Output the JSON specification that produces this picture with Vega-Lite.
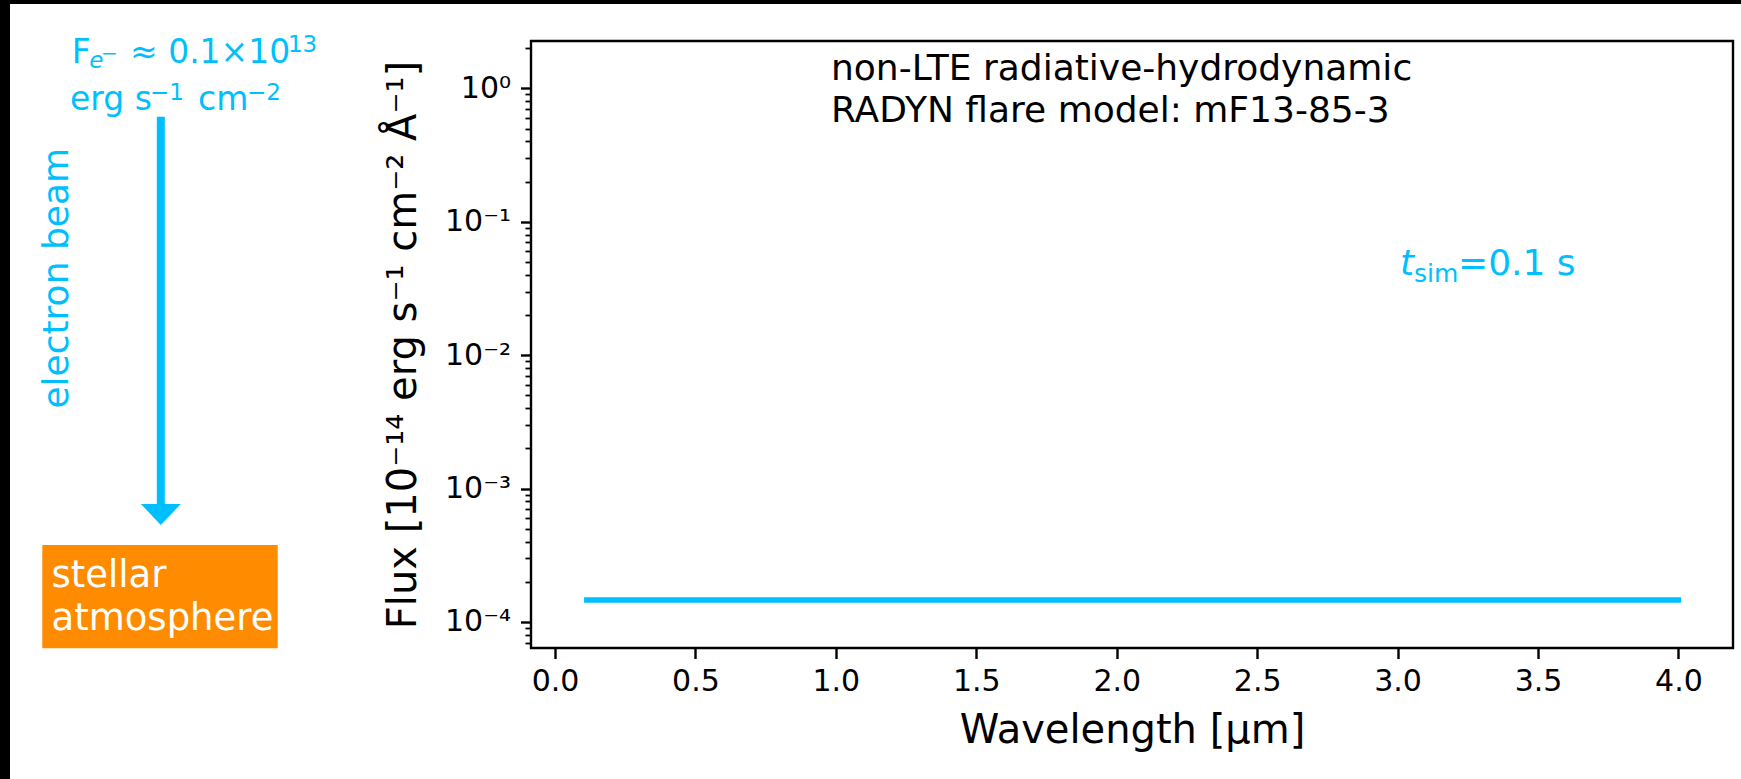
{
  "$schema": "https://vega.github.io/schema/vega-lite/v6.json",
  "width": 1202,
  "height": 607,
  "autosize": {"type": "none"},
  "padding": {"left": 531, "top": 41, "right": 8, "bottom": 131},
  "background": "white",
  "config": {
    "font": "DejaVu Sans",
    "view": {"stroke": "black", "strokeWidth": 2.4},
    "axis": {"domain": false, "grid": false, "labelColor": "black", "tickColor": "black", "titleColor": "black", "titleFontWeight": "normal", "labelFont": "DejaVu Sans", "titleFont": "DejaVu Sans"}
  },
  "datasets": {
    "spectrum": [{"wl": 0.113, "flux": 1.46e-4}, {"wl": 4.0, "flux": 1.46e-4}],
    "frame": [{"wl": -2.2, "wl2": -1.9403, "flux": 20, "flux2": 1e-6}, {"wl": -2.2, "wl2": 4.5, "flux": 20, "flux2": 4.29}],
    "box": [{"wl": -1.8253, "wl2": -0.9872, "flux": 3.776e-4, "flux2": 6.348e-5}],
    "box_text": [{"label": "stellar", "wl": -1.7926, "flux": 1.838e-4}, {"label": "atmosphere", "wl": -1.7926, "flux": 8.705e-5}],
    "beam_label": [{"label": "electron beam", "wl": -1.7328, "flux": 0.03769}],
    "arrow": [{"wl": -1.4034, "flux": 0.6131, "flux2": 7.6e-4}],
    "arrow_head": [{"wl": -1.4034, "flux": 6.449e-4}],
    "flux_big": [{"label": "F", "wl": -1.7207, "flux": 1.557}, {"label": "≈ 0.1×10", "wl": -1.5131, "flux": 1.557}, {"label": "erg s", "wl": -1.7267, "flux": 0.6885}, {"label": "cm", "wl": -1.271, "flux": 0.6885}],
    "flux_sup": [{"label": "13", "wl": -0.951, "flux": 1.883}, {"label": "−1", "wl": -1.4419, "flux": 0.818}, {"label": "−2", "wl": -1.0965, "flux": 0.818}],
    "flux_e": [{"label": "e", "wl": -1.658, "flux": 1.414}],
    "flux_minus": [{"label": "−", "wl": -1.6163, "flux": 1.632}],
    "model": [{"label": "non-LTE radiative-hydrodynamic", "wl": 0.9827, "flux": 1.155}, {"label": "RADYN flare model: mF13-85-3", "wl": 0.9827, "flux": 0.5624}],
    "t_t": [{"label": "t", "wl": 3.0085, "flux": 0.0399}],
    "t_sim": [{"label": "sim", "wl": 3.0584, "flux": 0.03535}],
    "t_val": [{"label": "=0.1 s", "wl": 3.215, "flux": 0.0399}]
  },
  "resolve": {"axis": {"y": "independent"}},
  "encoding": {
    "x": {
      "field": "wl", "type": "quantitative",
      "scale": {"domain": [-0.0854, 4.1941], "nice": false, "zero": false},
      "axis": {
        "values": [0, 0.5, 1, 1.5, 2, 2.5, 3, 3.5, 4],
        "format": ".1f",
        "labelFontSize": 30,
        "labelPadding": 8,
        "labelFlush": false,
        "labelOverlap": false,
        "tickSize": 10.5,
        "tickWidth": 2.4,
        "title": "Wavelength [μm]",
        "titleFontSize": 40,
        "titleBaseline": "alphabetic",
        "titleX": 601,
        "titleY": 94
      }
    },
    "y": {
      "field": "flux", "type": "quantitative",
      "scale": {"type": "log", "domain": [6.378e-5, 2.265], "nice": false},
      "axis": null
    }
  },
  "layer": [
    {
      "data": {"name": "frame"},
      "mark": {"type": "rect", "color": "black"},
      "encoding": {
        "x2": {"field": "wl2"},
        "y": {
          "field": "flux", "type": "quantitative",
          "scale": {"type": "log", "domain": [6.378e-5, 2.265], "nice": false},
          "axis": {
            "orient": "left",
            "values": [7e-5, 8e-5, 9e-5, 2e-4, 3e-4, 4e-4, 5e-4, 6e-4, 7e-4, 8e-4, 9e-4, 2e-3, 3e-3, 4e-3, 5e-3, 6e-3, 7e-3, 8e-3, 9e-3, 2e-2, 3e-2, 4e-2, 5e-2, 6e-2, 7e-2, 8e-2, 9e-2, 0.2, 0.3, 0.4, 0.5, 0.6, 0.7, 0.8, 0.9, 2],
            "labels": false,
            "title": null,
            "tickSize": 6,
            "tickWidth": 1.8
          }
        },
        "y2": {"field": "flux2"}
      }
    },
    {
      "data": {"name": "box"},
      "mark": {"type": "rect", "color": "#FF8C00"},
      "encoding": {"x2": {"field": "wl2"}, "y2": {"field": "flux2"}}
    },
    {
      "data": {"name": "box_text"},
      "mark": {"type": "text", "align": "left", "baseline": "alphabetic", "fontSize": 37, "color": "white"},
      "encoding": {"text": {"field": "label"}}
    },
    {
      "data": {"name": "beam_label"},
      "mark": {"type": "text", "align": "center", "baseline": "alphabetic", "angle": 270, "fontSize": 36, "color": "#00BFFF"},
      "encoding": {"text": {"field": "label"}}
    },
    {
      "data": {"name": "arrow"},
      "mark": {"type": "rule", "color": "#00BFFF", "strokeWidth": 8},
      "encoding": {"y2": {"field": "flux2"}}
    },
    {
      "data": {"name": "arrow_head"},
      "mark": {"type": "point", "shape": "M-1,-0.5L1,-0.5L0,0.55Z", "size": 1600, "filled": true, "color": "#00BFFF", "opacity": 1, "strokeWidth": 0}
    },
    {
      "data": {"name": "flux_big"},
      "mark": {"type": "text", "align": "left", "baseline": "alphabetic", "fontSize": 33, "color": "#00BFFF"},
      "encoding": {"text": {"field": "label"}}
    },
    {
      "data": {"name": "flux_sup"},
      "mark": {"type": "text", "align": "left", "baseline": "alphabetic", "fontSize": 23, "color": "#00BFFF"},
      "encoding": {"text": {"field": "label"}}
    },
    {
      "data": {"name": "flux_e"},
      "mark": {"type": "text", "align": "left", "baseline": "alphabetic", "fontSize": 23, "fontStyle": "italic", "color": "#00BFFF"},
      "encoding": {"text": {"field": "label"}}
    },
    {
      "data": {"name": "flux_minus"},
      "mark": {"type": "text", "align": "left", "baseline": "alphabetic", "fontSize": 20, "color": "#00BFFF"},
      "encoding": {"text": {"field": "label"}}
    },
    {
      "data": {"name": "model"},
      "mark": {"type": "text", "align": "left", "baseline": "alphabetic", "fontSize": 36, "color": "black"},
      "encoding": {"text": {"field": "label"}}
    },
    {
      "data": {"name": "t_t"},
      "mark": {"type": "text", "align": "left", "baseline": "alphabetic", "fontSize": 36, "fontStyle": "italic", "color": "#00BFFF"},
      "encoding": {"text": {"field": "label"}}
    },
    {
      "data": {"name": "t_sim"},
      "mark": {"type": "text", "align": "left", "baseline": "alphabetic", "fontSize": 25, "color": "#00BFFF"},
      "encoding": {"text": {"field": "label"}}
    },
    {
      "data": {"name": "t_val"},
      "mark": {"type": "text", "align": "left", "baseline": "alphabetic", "fontSize": 36, "color": "#00BFFF"},
      "encoding": {"text": {"field": "label"}}
    },
    {
      "data": {"name": "spectrum"},
      "mark": {"type": "line", "color": "#00BFFF", "strokeWidth": 5.3, "strokeCap": "square"},
      "encoding": {
        "y": {
          "field": "flux", "type": "quantitative",
          "scale": {"type": "log", "domain": [6.378e-5, 2.265], "nice": false},
          "axis": {
            "orient": "left",
            "values": [1e-4, 1e-3, 1e-2, 0.1, 1],
            "labelExpr": "'10' + (round(log(datum.value)/LN10) == 0 ? '⁰' : round(log(datum.value)/LN10) == -1 ? '⁻¹' : round(log(datum.value)/LN10) == -2 ? '⁻²' : round(log(datum.value)/LN10) == -3 ? '⁻³' : '⁻⁴')",
            "labelFontSize": 30,
            "labelPadding": 10,
            "labelOverlap": false,
            "labelFlush": false,
            "tickSize": 10.5,
            "tickWidth": 2.4,
            "title": "Flux [10⁻¹⁴ erg s⁻¹ cm⁻² Å⁻¹]",
            "titleFontSize": 40,
            "titleAngle": 270,
            "titleBaseline": "alphabetic",
            "titleAlign": "center",
            "titleX": -116,
            "titleY": 303.5
          }
        }
      }
    }
  ]
}
